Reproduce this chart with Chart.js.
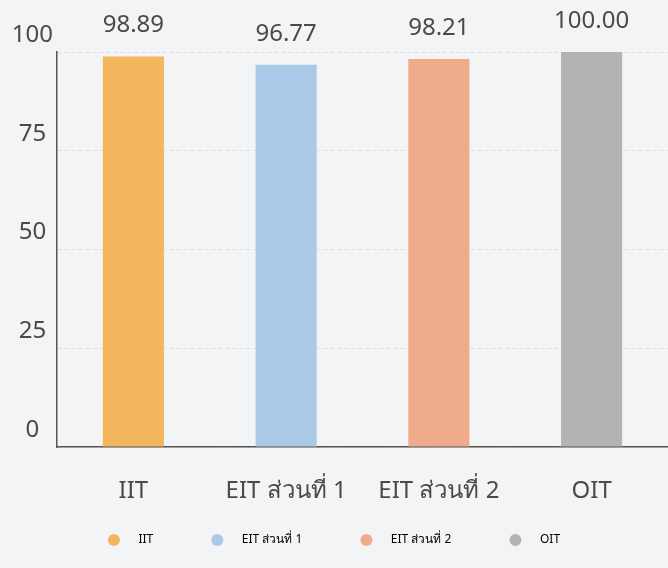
<!DOCTYPE html>
<html>
<head>
<meta charset="utf-8">
<script src="https://cdn.jsdelivr.net/npm/chart.js@4"></script>
<style>
  html, body { margin: 0; padding: 0; background: #f3f4f6; }
  #wrap { width: 668px; height: 568px; }
</style>
</head>
<body>
<div id="wrap"><canvas id="canvas" width="668" height="568"></canvas></div>
<script>
const canvas = document.getElementById("canvas");

const categories = ["IIT", "EIT ส่วนที่ 1", "EIT ส่วนที่ 2", "OIT"];
const scores = [98.89, 96.77, 98.21, 100.00];
const yTicks = [0, 25, 50, 75, 100];
const barColors = ["#f4b65c", "#a9c9e7", "#f0ab8b", "#b4b2b4"];

const fontFamily = "'Noto Sans', 'Open Sans', sans-serif";

// values printed above each bar
const valueLabels = {
  id: "valueLabels",
  afterDatasetsDraw(chart) {
    const ctx = chart.ctx;
    const meta = chart.getDatasetMeta(0);
    ctx.save();
    ctx.font = "24px " + fontFamily;
    ctx.fillStyle = "#4a4a4a";
    ctx.textAlign = "center";
    ctx.textBaseline = "middle";
    meta.data.forEach((bar, i) => {
      ctx.fillText(scores[i].toFixed(2), bar.x, bar.y - 31);
    });
    ctx.restore();
  }
};

new Chart(canvas, {
  type: "bar",
  data: {
    labels: categories,
    datasets: [
      {
        label: "score",
        data: scores,
        backgroundColor: barColors,
        barPercentage: 0.4,
        categoryPercentage: 1
      }
    ]
  },
  options: {
    responsive: false,
    animation: false,
    layout: { padding: { top: 52, left: 0, right: 0, bottom: 12 } },
    scales: {
      x: {
        grid: { display: false },
        border: { display: true, color: "#555", width: 1.5 },
        ticks: {
          color: "#4a4a4a",
          font: { size: 24, family: fontFamily },
          padding: 22,
          maxRotation: 0,
          autoSkip: false
        },
        afterFit(scale) { scale.height = 57; }
      },
      y: {
        min: 0,
        max: 100,
        afterBuildTicks(scale) { scale.ticks = yTicks.map(v => ({ value: v })); },
        grid: { color: "rgba(0,0,0,0.09)", drawTicks: false },
        border: { display: true, color: "#555", width: 1.5, dash: [4, 3] },
        ticks: {
          color: "#4a4a4a",
          font: { size: 24, family: fontFamily },
          crossAlign: "center",
          padding: 4,
          labelOffset: -17
        },
        afterFit(scale) { scale.width = 57; }
      }
    },
    plugins: {
      tooltip: { enabled: false },
      legend: {
        position: "bottom",
        labels: {
          color: "#939393",
          font: { size: 12, family: fontFamily },
          boxWidth: 12,
          boxHeight: 12,
          useBorderRadius: true,
          borderRadius: 6,
          padding: 30,
          generateLabels(chart) {
            return categories.map((c, i) => ({
              text: "    " + c + (i < categories.length - 1 ? "         " : ""),
              fillStyle: barColors[i],
              strokeStyle: barColors[i],
              lineWidth: 0,
              borderRadius: 6,
              index: i
            }));
          }
        }
      }
    }
  },
  plugins: [valueLabels]
});
</script>
</body>
</html>
